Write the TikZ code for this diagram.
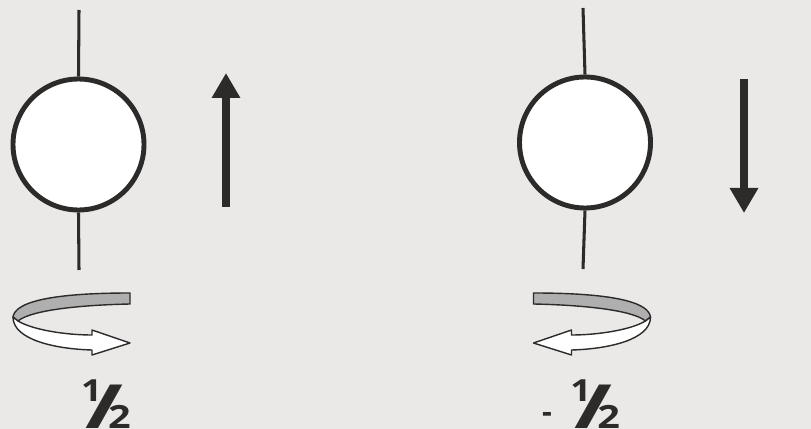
\documentclass[tikz,border=0pt]{standalone}
\usepackage{fontspec}
\setsansfont{Open Sans}
\usepackage{graphicx}
\usetikzlibrary{arrows.meta}

\definecolor{ink}{RGB}{45,42,42}
\definecolor{paper}{RGB}{234,233,231}
\definecolor{band}{RGB}{175,175,175}

% one half, set as 1 / 2
\newcommand{\halfsym}{\rlap{\raisebox{23pt}{\scalebox{1.2}[1]{1}}}\hspace*{3.5pt}%
    \rlap{\scalebox{3.0}[2.0]{/}}\hspace*{19.5pt}\scalebox{1.3}[1.05]{2}}

\tikzset{
    spinor/.style={circle, draw=ink, line width=4.2pt, fill=white,
        minimum size=3.93cm, inner sep=0pt},
    axis/.style={ink, line width=2.6pt},
    moment/.style={ink, line width=6.4pt, -{Triangle[length=0.75cm, width=0.81cm]}},
    value/.style={font=\sffamily\bfseries\fontsize{26}{26}\selectfont, text=ink,
        inner sep=0pt, anchor=base west},
    spin/.pic={
        % back of the ribbon
        \draw[ink, line width=1.2pt, fill=band]
            (-58,-3) .. controls (-56,-18) and (-20,-27) .. (59,-27)
            -- (59,-16) .. controls (10,-15) and (-40,-10) .. (-53,1) -- cycle;
        % front of the ribbon with its head
        \draw[ink, line width=1.2pt, fill=white, line join=round]
            (-53,1) .. controls (-38,10) and (-5,15) .. (21,15)
            -- (21,10) -- (59,23) -- (21,35) -- (21,30)
            .. controls (-15,29) and (-58,20) .. (-58,-3) -- cycle;
    }
}

\begin{document}
\begin{tikzpicture}[x=0.03cm, y=-0.03cm]

    % 1. Paper
    \fill[paper] (0,0) rectangle (811,429);

    % 2. Spin up
    \node[spinor] (up) at (78.5,144.5) {};
    \coordinate (uptop) at (79,10);
    \coordinate (upbot) at (79,270);
    \draw[axis] (uptop) -- (up.north);
    \draw[axis] (up.south) -- (upbot);
    \coordinate (uptail) at (226,207);
    \coordinate (uphead) at (226,73);
    \draw[moment] (uptail) -- (uphead);
    \pic at (71,320) {spin};
    \node[value] (upval) at (81,428) {\halfsym};

    % 3. Spin down
    \node[spinor] (down) at (585,142.5) {};
    \coordinate (downtop) at (583,8);
    \coordinate (downbot) at (583,269);
    \draw[axis] (downtop) -- (down.north);
    \draw[axis] (down.south) -- (downbot);
    \coordinate (downtail) at (744,79);
    \coordinate (downhead) at (744,213);
    \draw[moment] (downtail) -- (downhead);
    \pic[xscale=-1] at (592.5,320) {spin};
    \node[value] (downval) at (542,428) {\rlap{\raisebox{5pt}{-}}\hspace*{24pt}\halfsym};

\end{tikzpicture}
\end{document}
